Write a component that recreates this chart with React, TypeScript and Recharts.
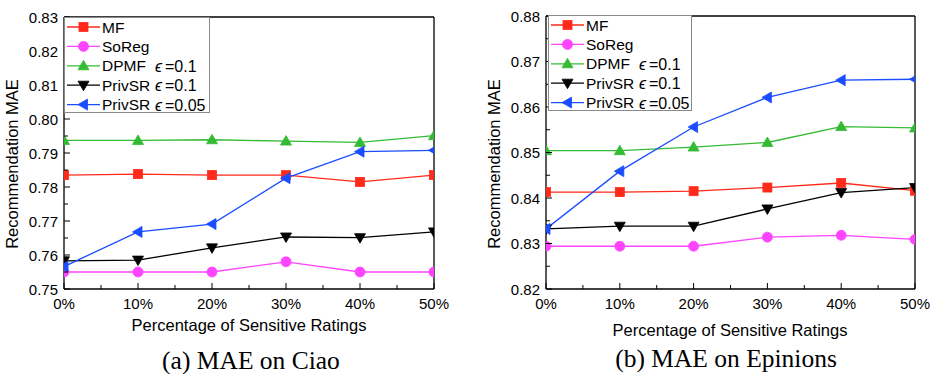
import React from 'react';
import { LineChart, Line, XAxis, YAxis, Legend } from 'recharts';

const percentages = [0, 10, 20, 30, 40, 50];
const xTicks = [0, 5, 10, 15, 20, 25, 30, 35, 40, 45, 50];

const ciaoMF = [0.7835, 0.7838, 0.7835, 0.7835, 0.7815, 0.7835];
const ciaoSoReg = [0.755, 0.755, 0.755, 0.758, 0.755, 0.755];
const ciaoDPMF = [0.7937, 0.7937, 0.7939, 0.7935, 0.7931, 0.7951];
const ciaoPrivSR01 = [0.7583, 0.7585, 0.7621, 0.7653, 0.7651, 0.7668];
const ciaoPrivSR005 = [0.7566, 0.7668, 0.7691, 0.7826, 0.7904, 0.7908];

const epMF = [0.8413, 0.8413, 0.8415, 0.8423, 0.8433, 0.8416];
const epSoReg = [0.8294, 0.8294, 0.8294, 0.8314, 0.8318, 0.8309];
const epDPMF = [0.8504, 0.8504, 0.8512, 0.8522, 0.8557, 0.8554];
const epPrivSR01 = [0.8332, 0.8338, 0.8338, 0.8376, 0.8412, 0.8423];
const epPrivSR005 = [0.8332, 0.8459, 0.8556, 0.8621, 0.8659, 0.8661];

const ciaoYTicks = [0.75, 0.755, 0.76, 0.765, 0.77, 0.775, 0.78, 0.785, 0.79, 0.795, 0.8, 0.805, 0.81, 0.815, 0.82, 0.825, 0.83];
const epYTicks = [0.82, 0.825, 0.83, 0.835, 0.84, 0.845, 0.85, 0.855, 0.86, 0.865, 0.87, 0.875, 0.88];

const seriesNames = ['MF', 'SoReg', 'DPMF', 'PrivSR', 'PrivSR'];
const seriesEps = ['', '', '=0.1', '=0.1', '=0.05'];
const seriesKeys = ['mf', 'soreg', 'dpmf', 'privsr01', 'privsr005'];
const seriesColors = ['#ff2a1a', '#ff44ff', '#33bb33', '#000000', '#1a4dff'];
const seriesShapes = ['square', 'circle', 'up', 'down', 'left'];

const SANS = '"Liberation Sans", Arial, sans-serif';
const SERIF = '"Liberation Serif", "Times New Roman", serif';

function buildRows(cols: number[][]) {
  return percentages.map((p, i) => {
    const row: any = { pct: p };
    seriesKeys.forEach((k, j) => {
      row[k] = cols[j][i];
    });
    return row;
  });
}

const ciaoData = buildRows([ciaoMF, ciaoSoReg, ciaoDPMF, ciaoPrivSR01, ciaoPrivSR005]);
const epData = buildRows([epMF, epSoReg, epDPMF, epPrivSR01, epPrivSR005]);

function Marker({ shape, cx, cy, color }: { shape: string; cx: number; cy: number; color: string }) {
  const s = 5;
  if (shape === 'square') {
    return <rect x={cx - 4.5} y={cy - 4.5} width={9} height={9} fill={color} stroke={color} strokeWidth={0.8} />;
  }
  if (shape === 'circle') {
    return <circle cx={cx} cy={cy} r={5} fill={color} stroke={color} strokeWidth={0.8} />;
  }
  let pts = '';
  if (shape === 'up') pts = `${cx},${cy - s - 0.5} ${cx + s + 0.5},${cy + s - 1} ${cx - s - 0.5},${cy + s - 1}`;
  if (shape === 'down') pts = `${cx - s - 0.5},${cy - s + 1} ${cx + s + 0.5},${cy - s + 1} ${cx},${cy + s + 0.5}`;
  if (shape === 'left') pts = `${cx - s - 0.5},${cy} ${cx + s - 1},${cy - s - 0.5} ${cx + s - 1},${cy + s + 0.5}`;
  return <polygon points={pts} fill={color} stroke={color} strokeWidth={0.8} />;
}

function makeDot(shape: string, color: string) {
  return (props: any) => {
    const { cx, cy, index } = props;
    if (cx == null || cy == null) return <g key={`d-${index}`} />;
    return (
      <g key={`d-${shape}-${index}`}>
        <Marker shape={shape} cx={cx} cy={cy} color={color} />
      </g>
    );
  };
}

const XTick = (props: any) => {
  const { x, y, payload } = props;
  const v = payload.value;
  const major = v % 10 === 0;
  return (
    <g>
      <line x1={x} x2={x} y1={y} y2={y - (major ? 6 : 4)} stroke="#000" strokeWidth={1} />
      {major && (
        <text x={x} y={y + 14} textAnchor="middle" dominantBaseline="central" fontSize={15} fontFamily={SANS} fill="#000">
          {`${v}%`}
        </text>
      )}
    </g>
  );
};

const YTick = (props: any) => {
  const { x, y, payload } = props;
  const v = payload.value;
  const major = Math.round(v * 1000) % 10 === 0;
  return (
    <g>
      <line x1={x} x2={x + (major ? 6 : 4)} y1={y} y2={y} stroke="#000" strokeWidth={1} />
      {major && (
        <text x={x - 6} y={y} textAnchor="end" dominantBaseline="central" fontSize={15} fontFamily={SANS} fill="#000">
          {v.toFixed(2)}
        </text>
      )}
    </g>
  );
};

function LegendBox({ width }: { width: number }) {
  const rowH = 19.4;
  const height = 96;
  return (
    <svg width={width} height={height} style={{ display: 'block' }}>
      <rect x={0.5} y={0.5} width={width - 1} height={height - 1} fill="#fff" stroke="#8a8a8a" strokeWidth={1} />
      {seriesNames.map((name, i) => {
        const cy = 10 + i * rowH;
        const color = seriesColors[i];
        return (
          <g key={i}>
            <line x1={3} x2={36} y1={cy} y2={cy} stroke={color} strokeWidth={1.3} />
            <Marker shape={seriesShapes[i]} cx={19.5} cy={cy} color={color} />
            <text x={38} y={cy} dominantBaseline="central" fontSize={15.5} fontFamily={SANS} fill="#000">
              {name}
            </text>
            {seriesEps[i] && (
              <text y={cy} dominantBaseline="central" fontSize={16} fontFamily={SANS} fill="#000">
                <tspan x={91} fontStyle="italic">{'\u03F5'}</tspan>
                <tspan x={101}>{seriesEps[i]}</tspan>
              </text>
            )}
          </g>
        );
      })}
    </svg>
  );
}

function Panel({
  data,
  domain,
  yTicks,
  margin,
  legendLeft,
  legendTop,
  legendWidth,
}: {
  data: any[];
  domain: [number, number];
  yTicks: number[];
  margin: { top: number; right: number; bottom: number; left: number };
  legendLeft: number;
  legendTop: number;
  legendWidth: number;
}) {
  return (
    <LineChart width={468} height={374} data={data} margin={margin}>
      <XAxis
        dataKey="pct"
        type="number"
        domain={[0, 50]}
        ticks={xTicks}
        interval={0}
        height={30}
        tickSize={0}
        tickMargin={0}
        tickLine={false}
        tick={<XTick />}
        axisLine={{ stroke: '#000', strokeWidth: 1.3 }}
        allowDataOverflow
      />
      <XAxis
        xAxisId="top"
        orientation="top"
        dataKey="pct"
        type="number"
        domain={[0, 50]}
        height={1}
        tick={false}
        tickLine={false}
        axisLine={{ stroke: '#000', strokeWidth: 1.3 }}
      />
      <YAxis
        type="number"
        domain={domain}
        ticks={yTicks}
        interval={0}
        width={50}
        tickSize={0}
        tickMargin={0}
        tickLine={false}
        tick={<YTick />}
        axisLine={{ stroke: '#000', strokeWidth: 1.3 }}
        allowDataOverflow
      />
      <YAxis
        yAxisId="right"
        orientation="right"
        type="number"
        domain={domain}
        width={1}
        tick={false}
        tickLine={false}
        axisLine={{ stroke: '#000', strokeWidth: 1.3 }}
      />
      {seriesKeys.map((k, i) => (
        <Line
          key={k}
          type="linear"
          dataKey={k}
          stroke={seriesColors[i]}
          strokeWidth={1.3}
          dot={makeDot(seriesShapes[i], seriesColors[i])}
          activeDot={false}
          isAnimationActive={false}
        />
      ))}
      <Legend
        layout="horizontal"
        verticalAlign="middle"
        align="center"
        content={() => <LegendBox width={legendWidth} />}
        wrapperStyle={{ left: legendLeft, top: legendTop, width: legendWidth, height: 96 }}
      />
    </LineChart>
  );
}

const absText = (cx: number, cy: number, extra: React.CSSProperties): React.CSSProperties => ({
  position: 'absolute',
  left: cx,
  top: cy,
  whiteSpace: 'nowrap',
  lineHeight: 1,
  ...extra,
});

export default function App() {
  return (
    <div style={{ position: 'absolute', left: 0, top: 0, width: 936, height: 374, background: '#fff', overflow: 'hidden' }}>
      <div style={{ position: 'absolute', left: 0, top: 0 }}>
        <Panel
          data={ciaoData}
          domain={[0.75, 0.83]}
          yTicks={ciaoYTicks}
          margin={{ top: 16, right: 33, bottom: 55, left: 14 }}
          legendLeft={64}
          legendTop={17}
          legendWidth={146}
        />
      </div>
      <div style={{ position: 'absolute', left: 468, top: 0 }}>
        <Panel
          data={epData}
          domain={[0.82, 0.88]}
          yTicks={epYTicks}
          margin={{ top: 15, right: 20, bottom: 55, left: 28 }}
          legendLeft={80}
          legendTop={15}
          legendWidth={144}
        />
      </div>
      <div style={absText(12, 164, { transform: 'translate(-50%,-50%) rotate(-90deg)', fontFamily: SANS, fontSize: 16.5 })}>
        Recommendation MAE
      </div>
      <div style={absText(494, 164, { transform: 'translate(-50%,-50%) rotate(-90deg)', fontFamily: SANS, fontSize: 16.5 })}>
        Recommendation MAE
      </div>
      <div style={absText(249, 325, { transform: 'translate(-50%,-50%)', fontFamily: SANS, fontSize: 16.5 })}>
        Percentage of Sensitive Ratings
      </div>
      <div style={absText(730, 330, { transform: 'translate(-50%,-50%)', fontFamily: SANS, fontSize: 16.5 })}>
        Percentage of Sensitive Ratings
      </div>
      <div style={absText(251, 361, { transform: 'translate(-50%,-50%)', fontFamily: SERIF, fontSize: 25.5 })}>
        (a) MAE on Ciao
      </div>
      <div style={absText(726, 359, { transform: 'translate(-50%,-50%)', fontFamily: SERIF, fontSize: 25.5 })}>
        (b) MAE on Epinions
      </div>
    </div>
  );
}
